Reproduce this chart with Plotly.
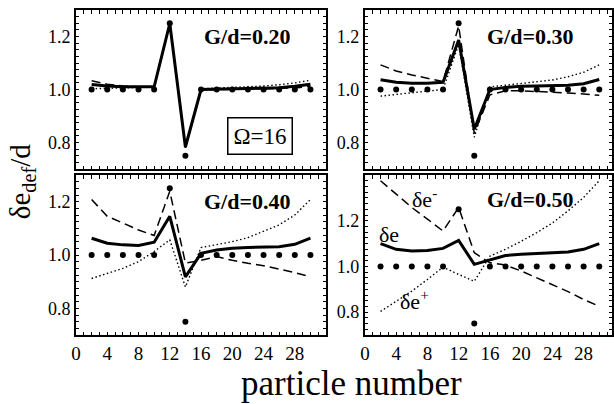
import plotly.graph_objects as go
from plotly.subplots import make_subplots

particle = [2, 4, 6, 8, 10, 12, 14, 16, 18, 20, 22, 24, 26, 28, 30]
dots = [1.0, 1.0, 1.0, 1.0, 1.0, 1.25, 0.75, 1.0, 1.0, 1.0, 1.0, 1.0, 1.0, 1.0, 1.0]

panel_labels = ["G/d=0.20", "G/d=0.30", "G/d=0.40", "G/d=0.50"]

solid_20 = [1.019, 1.013, 1.010, 1.010, 1.010, 1.249, 0.783, 1.000, 1.002, 1.003, 1.004, 1.005, 1.007, 1.012, 1.020]
dash_20 = [1.033, 1.020, 1.013, 1.010, 1.010, 1.250, 0.780, 0.998, 1.000, 1.000, 1.002, 1.003, 1.004, 1.006, 1.012]
dot_20 = [1.003, 1.005, 1.006, 1.008, 1.009, 1.245, 0.785, 1.003, 1.005, 1.007, 1.010, 1.013, 1.018, 1.025, 1.035]

solid_30 = [1.037, 1.027, 1.024, 1.024, 1.027, 1.187, 0.850, 1.000, 1.008, 1.012, 1.013, 1.014, 1.016, 1.022, 1.038]
dash_30 = [1.093, 1.070, 1.055, 1.042, 1.030, 1.240, 0.835, 0.980, 0.995, 0.995, 0.993, 0.990, 0.987, 0.983, 0.978]
dot_30 = [0.975, 0.982, 0.988, 0.994, 1.000, 1.170, 0.820, 1.010, 1.016, 1.022, 1.028, 1.036, 1.048, 1.065, 1.093]

solid_40 = [1.063, 1.044, 1.038, 1.036, 1.048, 1.145, 0.918, 1.006, 1.019, 1.025, 1.028, 1.029, 1.031, 1.040, 1.063]
dash_40 = [1.208, 1.145, 1.120, 1.094, 1.073, 1.239, 0.970, 0.980, 0.994, 0.980, 0.969, 0.960, 0.947, 0.934, 0.918]
dot_40 = [0.912, 0.930, 0.950, 0.975, 1.013, 1.057, 0.880, 1.028, 1.038, 1.050, 1.065, 1.088, 1.113, 1.150, 1.208]

solid_50 = [1.100, 1.075, 1.067, 1.070, 1.079, 1.114, 1.009, 1.030, 1.048, 1.053, 1.057, 1.059, 1.063, 1.075, 1.100]
dash_50 = [1.375, 1.317, 1.258, 1.207, 1.155, 1.258, 1.060, 1.016, 1.006, 0.980, 0.950, 0.920, 0.890, 0.855, 0.826]
dot_50 = [0.803, 0.848, 0.892, 0.943, 0.997, 0.965, 0.935, 1.045, 1.075, 1.110, 1.148, 1.190, 1.243, 1.302, 1.375]

panels = [(solid_20, dash_20, dot_20), (solid_30, dash_30, dot_30),
          (solid_40, dash_40, dot_40), (solid_50, dash_50, dot_50)]

x_tick_labels = ["0", "4", "8", "12", "16", "20", "24", "28"]
y_tick_labels = ["0.8", "1.0", "1.2"]

FONT = "Liberation Serif, Times New Roman, serif"
W, H = 614, 404
ml, mr, mt, mb = 76, 0, 10, 69
pw, ph = W - ml - mr, H - mt - mb

fig = make_subplots(rows=2, cols=2)

for i, (s, d, o) in enumerate(panels):
    r, c = i // 2 + 1, i % 2 + 1
    fig.add_trace(go.Scatter(x=particle, y=d, mode="lines",
                             line=dict(color="black", width=1.5, dash="9px,5px")), row=r, col=c)
    fig.add_trace(go.Scatter(x=particle, y=o, mode="lines",
                             line=dict(color="black", width=1.4, dash="1.5px,2.5px")), row=r, col=c)
    fig.add_trace(go.Scatter(x=particle, y=s, mode="lines",
                             line=dict(color="black", width=3)), row=r, col=c)
    fig.add_trace(go.Scatter(x=particle, y=dots, mode="markers",
                             marker=dict(color="black", size=6)), row=r, col=c)

left_dom = [0, 251 / pw]
right_dom = [(366 - ml) / pw, 1]
top_dom = [(335 - 169) / ph, 1]
bot_dom = [0, (335 - 175) / ph]

xr_left = [0, 32]
xr_right = [0, 248 / 7.84]
yr = [[0.7, 1.3], [0.7, 1.3], [0.7, 1.3], [0.7, 1.4]]

xticks = list(range(0, 33))
xtext = [x_tick_labels[v // 4] if v % 4 == 0 and v // 4 < len(x_tick_labels) else "" for v in xticks]
yticks = [round(0.7 + 0.025 * k, 3) for k in range(29)]
ylab_map = {0.8: y_tick_labels[0], 1.0: y_tick_labels[1], 1.2: y_tick_labels[2]}
ytext = [ylab_map.get(v, "") for v in yticks]

for i in range(4):
    r, c = i // 2 + 1, i % 2 + 1
    xa = dict(range=xr_left if c == 1 else xr_right,
              domain=left_dom if c == 1 else right_dom,
              showgrid=False, zeroline=False, showline=True, linecolor="black", linewidth=2,
              mirror="allticks", ticks="inside", ticklen=3.5, tickwidth=1, tickcolor="black",
              tickvals=xticks, ticktext=xtext,
              showticklabels=(r == 2),
              tickfont=dict(family=FONT, size=19, color="black"))
    ya = dict(range=yr[i], domain=top_dom if r == 1 else bot_dom,
              showgrid=False, zeroline=False, showline=True, linecolor="black", linewidth=2,
              mirror="allticks", ticks="inside", ticklen=3, tickwidth=1, tickcolor="black",
              tickvals=yticks, ticktext=ytext,
              tickfont=dict(family=FONT, size=18, color="black"))
    fig.update_xaxes(row=r, col=c, **xa)
    fig.update_yaxes(row=r, col=c, **ya)

lab_pos = [(21.9, 1.2), (21.2, 1.2), (21.9, 1.2), (21.2, 1.295)]
for i, lab in enumerate(panel_labels):
    r, c = i // 2 + 1, i % 2 + 1
    fig.add_annotation(row=r, col=c, x=lab_pos[i][0], y=lab_pos[i][1], text="<b>%s</b>" % lab,
                       showarrow=False, xanchor="center", yanchor="middle",
                       font=dict(family=FONT, size=22, color="black"))

fig.add_annotation(row=1, col=1, x=23.5, y=0.826, text="Ω=16", showarrow=False,
                   xanchor="center", yanchor="middle",
                   font=dict(family=FONT, size=23, color="black"),
                   bordercolor="black", borderwidth=1.5, borderpad=5, bgcolor="white")

fig.add_annotation(row=2, col=2, x=7.6, y=1.3, text="δe<sup>-</sup>", showarrow=False,
                   xanchor="center", yanchor="middle", font=dict(family=FONT, size=22, color="black"))
fig.add_annotation(row=2, col=2, x=3.1, y=1.14, text="δe", showarrow=False,
                   xanchor="center", yanchor="middle", font=dict(family=FONT, size=22, color="black"))
fig.add_annotation(row=2, col=2, x=6.4, y=0.855, text="δe<sup>+</sup>", showarrow=False,
                   xanchor="center", yanchor="middle", font=dict(family=FONT, size=22, color="black"))

fig.add_annotation(xref="paper", yref="paper", x=(353 - ml) / pw, y=(H - mb - 383) / ph,
                   text="particle number", showarrow=False, xanchor="center", yanchor="middle",
                   font=dict(family=FONT, size=35, color="black"))
fig.add_annotation(xref="paper", yref="paper", x=(22 - ml) / pw, y=(H - mb - 181) / ph,
                   text="δe<sub>def</sub>/d", textangle=-90, showarrow=False,
                   xanchor="center", yanchor="middle",
                   font=dict(family=FONT, size=29, color="black"))

fig.update_layout(width=W, height=H, margin=dict(l=ml, r=mr, t=mt, b=mb),
                  paper_bgcolor="white", plot_bgcolor="white", showlegend=False,
                  font=dict(family=FONT, color="black"))

fig.write_html("out.html")
